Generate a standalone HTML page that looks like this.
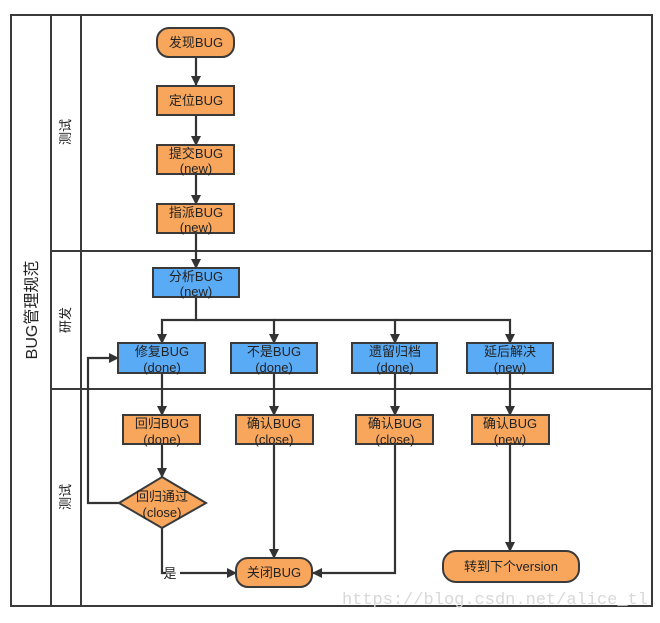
<!DOCTYPE html>
<html><head><meta charset="utf-8"><style>
html,body{margin:0;padding:0;background:#fff;}
svg text{font-family:"Liberation Sans","Noto Sans CJK SC",sans-serif;fill:#222;}
</style></head><body>
<svg width="660" height="618" viewBox="0 0 660 618" xmlns="http://www.w3.org/2000/svg">
<defs>
<marker id="a" markerWidth="10" markerHeight="10" refX="9" refY="5" orient="auto" markerUnits="userSpaceOnUse">
<path d="M0,0 L10,5 L0,10 Z" fill="#333"/></marker>
</defs>
<g stroke="#3a3a3a" stroke-width="2" fill="none">
<rect x="11" y="15" width="641" height="591"/>
<line x1="51" y1="15" x2="51" y2="606"/>
<line x1="81" y1="15" x2="81" y2="606"/>
<line x1="51" y1="251" x2="652" y2="251"/>
<line x1="51" y1="389" x2="652" y2="389"/>
</g>
<text x="37" y="310" font-size="16" transform="rotate(-90 37 310)" text-anchor="middle">BUG管理规范</text>
<text x="70" y="132" font-size="13" transform="rotate(-90 70 132)" text-anchor="middle">测试</text>
<text x="70" y="320" font-size="13" transform="rotate(-90 70 320)" text-anchor="middle">研发</text>
<text x="70" y="497" font-size="13" transform="rotate(-90 70 497)" text-anchor="middle">测试</text>

<g stroke="#333" stroke-width="2.2" fill="none" marker-end="url(#a)">
<line x1="196" y1="57" x2="196" y2="85"/>
<line x1="196" y1="115" x2="196" y2="145"/>
<line x1="196" y1="174" x2="196" y2="204"/>
<line x1="196" y1="233" x2="196" y2="268"/>
<path d="M196,297 V320 H162 V343"/>
<path d="M196,320 H274 V343"/>
<path d="M274,320 H395 V343"/>
<path d="M395,320 H510 V343"/>
<line x1="162" y1="373" x2="162" y2="415"/>
<line x1="274" y1="373" x2="274" y2="415"/>
<line x1="395" y1="373" x2="395" y2="415"/>
<line x1="510" y1="373" x2="510" y2="415"/>
<line x1="162" y1="444" x2="162" y2="477"/>
<line x1="274" y1="444" x2="274" y2="558"/>
<path d="M395,444 V573 H313"/>
<line x1="510" y1="444" x2="510" y2="551"/>
<path d="M119,503 H88 V358 H118"/>
<line x1="180" y1="573" x2="236" y2="573"/>
</g>
<path d="M162,528 V573 H166" stroke="#333" stroke-width="2.2" fill="none"/>
<text x="170" y="578" font-size="13" text-anchor="middle">是</text>

<g stroke="#3a3a3a" stroke-width="2" fill="#F8A65C">
<rect x="157" y="28" width="77" height="29" rx="12"/>
<rect x="157" y="86" width="77" height="29"/>
<rect x="157" y="145" width="77" height="29"/>
<rect x="157" y="204" width="77" height="29"/>
<rect x="123" y="415" width="77" height="29"/>
<rect x="236" y="415" width="77" height="29"/>
<rect x="356" y="415" width="77" height="29"/>
<rect x="472" y="415" width="77" height="29"/>
<polygon points="162,477 206,503 162,528 119,503"/>
<rect x="236" y="558" width="76" height="29" rx="12"/>
<rect x="443" y="551" width="136" height="31" rx="13"/>
</g>
<g stroke="#3a3a3a" stroke-width="2" fill="#5AABF6">
<rect x="153" y="268" width="86" height="29"/>
<rect x="118" y="343" width="87" height="30"/>
<rect x="231" y="343" width="86" height="30"/>
<rect x="352" y="343" width="85" height="30"/>
<rect x="467" y="343" width="86" height="30"/>
</g>
<g font-size="13" text-anchor="middle">
<text x="196" y="47">发现BUG</text>
<text x="196" y="105">定位BUG</text>
<text x="196" y="158">提交BUG</text><text x="196" y="173">(new)</text>
<text x="196" y="217">指派BUG</text><text x="196" y="232">(new)</text>
<text x="196" y="281">分析BUG</text><text x="196" y="296">(new)</text>
<text x="162" y="356">修复BUG</text><text x="162" y="372">(done)</text>
<text x="274" y="356">不是BUG</text><text x="274" y="372">(done)</text>
<text x="395" y="356">遗留归档</text><text x="395" y="372">(done)</text>
<text x="510" y="356">延后解决</text><text x="510" y="372">(new)</text>
<text x="162" y="428">回归BUG</text><text x="162" y="444">(done)</text>
<text x="274" y="428">确认BUG</text><text x="274" y="444">(close)</text>
<text x="395" y="428">确认BUG</text><text x="395" y="444">(close)</text>
<text x="510" y="428">确认BUG</text><text x="510" y="444">(new)</text>
<text x="162" y="501">回归通过</text><text x="162" y="517">(close)</text>
<text x="274" y="577">关闭BUG</text>
<text x="511" y="571">转到下个version</text>
</g>
<text x="648" y="604" font-size="17" text-anchor="end" style="font-family:'Liberation Mono',monospace;fill:#d8d8d8">https://blog.csdn.net/alice_tl</text>
</svg>
</body></html>
